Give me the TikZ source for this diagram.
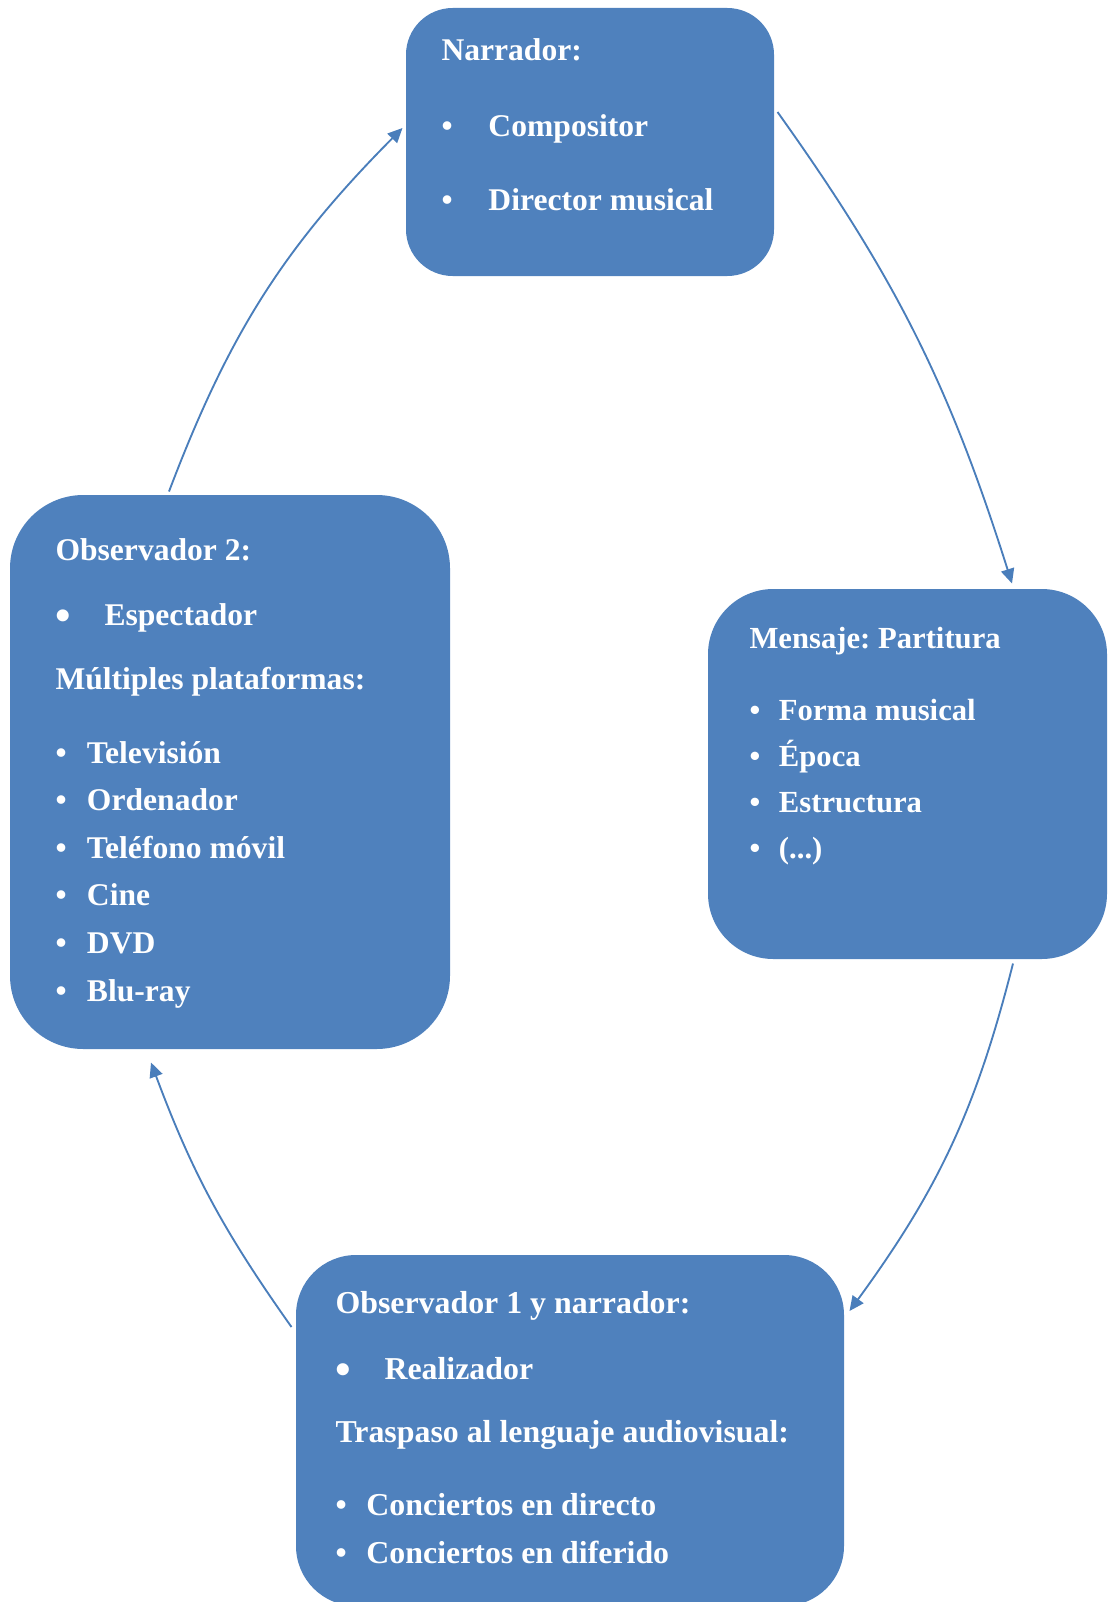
\documentclass[tikz,border=0pt]{standalone}
\usepackage{fontspec}
\setmainfont{Liberation Serif}
\usetikzlibrary{fit,arrows.meta}
\frenchspacing

\newlength\pxu \setlength\pxu{0.75pt}
\newcommand{\dotb}[1]{\makebox[#1\pxu][l]{\textbullet}}
\newcommand{\bigdotb}[1]{\makebox[#1\pxu][l]{\raisebox{-0.17em}{\scalebox{1.4}{\textbullet}}}}

\tikzset{every picture/.style={line width=0.75pt}}
\tikzset{
  panel/.style={fill={rgb, 255:red, 79; green, 129; blue, 189 }, inner sep=0pt, rounded corners=#1},
  lbl/.style={anchor=base west, inner sep=0pt, text=white, font=\bfseries\fontsize{#1}{28}\selectfont},
  lbl/.default=23.7,
  flow/.style={draw={rgb, 255:red, 74; green, 126; blue, 187 }, line width=1.4, -{Triangle[length=11pt,width=10pt]}},
}

\begin{document}
\begin{tikzpicture}[x=0.75pt,y=0.75pt,yscale=-1,xscale=1]
\useasboundingbox (0,0) rectangle (1107,1602);

%Shape: Rounded Rect (Narrador)
\node [panel=35pt, fit={(406,8) (774,276)}] (narr) {};
%Shape: Rounded Rect (Mensaje)
\node [panel=49pt, fit={(708,589) (1107,959)}] (msg) {};
%Shape: Rounded Rect (Observador 1)
\node [panel=45pt, fit={(296,1255) (844,1606)}] (obs1) {};
%Shape: Rounded Rect (Observador 2)
\node [panel=55pt, fit={(10,495) (450,1049)}] (obs2) {};

% Text Node
\node [lbl] (narr1) at (441,61) {Narrador:};
\node [lbl] (narr2) at (441,136) {\dotb{47}Compositor};
\node [lbl] (narr3) at (441,210) {\dotb{47}Director musical};

% Text Node
\node [lbl=23] (msg1) at (749,648) {Mensaje: Partitura};
\node [lbl=23] (msg2) at (749,720.5) {\dotb{29.5}Forma musical};
\node [lbl=23] (msg3) at (749,766) {\dotb{29.5}Época};
\node [lbl=23] (msg4) at (749,812) {\dotb{29.5}Estructura};
\node [lbl=23] (msg5) at (749,858) {\dotb{29.5}(...)};

% Text Node
\node [lbl] (obsb1) at (55,560) {Observador 2:};
\node [lbl] (obsb2) at (55,625) {\bigdotb{49}Espectador};
\node [lbl] (obsb3) at (55,689) {Múltiples plataformas:};
\node [lbl] (obsb4) at (55,763) {\dotb{31.5}Televisión};
\node [lbl] (obsb5) at (55,810) {\dotb{31.5}Ordenador};
\node [lbl] (obsb6) at (55,858) {\dotb{31.5}Teléfono móvil};
\node [lbl] (obsb7) at (55,905) {\dotb{31.5}Cine};
\node [lbl] (obsb8) at (55,953) {\dotb{31.5}DVD};
\node [lbl] (obsb9) at (55,1001) {\dotb{31.5}Blu-ray};

% Text Node
\node [lbl=23.9] (obsa1) at (335,1313) {Observador 1 y narrador:};
\node [lbl=23.9] (obsa2) at (335,1379) {\bigdotb{49}Realizador};
\node [lbl=23.9] (obsa3) at (335,1442) {Traspaso al lenguaje audiovisual:};
\node [lbl=23.9] (obsa4) at (335,1515.5) {\dotb{31}Conciertos en directo};
\node [lbl=23.9] (obsa5) at (335,1563.5) {\dotb{31}Conciertos en diferido};

%Curve Lines
\draw [flow] ([shift={(3,-30)}]narr.east) .. controls +(120,168) and +(-62,-196) .. ([shift={(104.5,-5)}]msg.north);
\draw [flow] ([shift={(105.5,4)}]msg.south) .. controls +(-37,146) and +(89,-122) .. ([shift={(5,-119.5)}]obs1.east);
\draw [flow] ([shift={(-4,-103.5)}]obs1.west) .. controls +(-68,-96) and +(41,110) .. ([shift={(-79,13)}]obs2.south);
\draw [flow] ([shift={(-61,-3)}]obs2.north) .. controls +(60,-158) and +(-119,120) .. ([shift={(-3,-14)}]narr.west);

\end{tikzpicture}
\end{document}
